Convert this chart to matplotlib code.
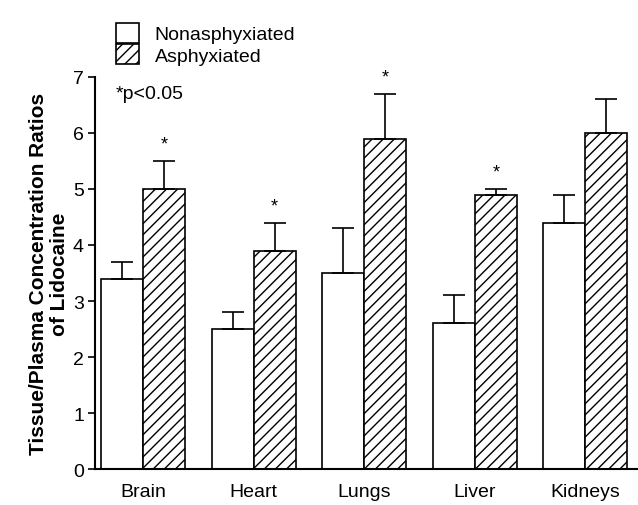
import matplotlib
matplotlib.use('Agg')
import matplotlib.pyplot as plt
import numpy as np

organs = ['Brain', 'Heart', 'Lungs', 'Liver', 'Kidneys']
nonasph = [3.4, 2.5, 3.5, 2.6, 4.4]
nonasph_err = [0.3, 0.3, 0.8, 0.5, 0.5]
asph = [5.0, 3.9, 5.9, 4.9, 6.0]
asph_err = [0.5, 0.5, 0.8, 0.1, 0.6]
signif = [True, True, True, True, False]

plt.rcParams['font.family'] = ['Liberation Sans', 'DejaVu Sans']
plt.rcParams['hatch.linewidth'] = 1.0

fig = plt.figure(figsize=(6.38, 5.06), dpi=100)
ax = fig.add_axes([0.149, 0.071, 0.851, 0.775])

x = np.arange(len(organs))
w = 0.38
b1 = ax.bar(x - w/2, nonasph, w, color='white', edgecolor='black', linewidth=1.2,
            label='Nonasphyxiated')
b2 = ax.bar(x + w/2, asph, w, color='white', edgecolor='black', linewidth=1.2,
            hatch='///', label='Asphyxiated')
ax.errorbar(x - w/2, nonasph, yerr=[np.zeros(5), nonasph_err], fmt='none',
            ecolor='black', elinewidth=1.2, capsize=8, capthick=1.2)
ax.errorbar(x + w/2, asph, yerr=[np.zeros(5), asph_err], fmt='none',
            ecolor='black', elinewidth=1.2, capsize=8, capthick=1.2)

for i in range(len(organs)):
    if signif[i]:
        ax.text(x[i] + w/2, asph[i] + asph_err[i] + 0.3, '*', ha='center', va='center',
                fontsize=13, clip_on=False)

ax.text(-0.25, 6.7, '*p<0.05', fontsize=14, va='center')

ax.set_xlim(-0.434, 4.476)
ax.set_ylim(0, 7)
ax.set_yticks(range(8))
ax.set_xticks(x)
ax.set_xticklabels(organs)
ax.tick_params(axis='x', length=0, labelsize=14, pad=10)
ax.tick_params(axis='y', length=5, width=1.2, labelsize=14, pad=3)
ax.spines['top'].set_visible(False)
ax.spines['right'].set_visible(False)
ax.spines['left'].set_linewidth(1.5)
ax.spines['bottom'].set_linewidth(1.5)
ax.set_ylabel('Tissue/Plasma Concentration Ratios\nof Lidocaine', fontsize=15,
              fontweight='bold', labelpad=3, linespacing=1.1)

fig.legend(handles=[b1, b2], loc='upper left', bbox_to_anchor=(0.16, 0.98),
           frameon=False, fontsize=14, handlelength=1.2, handleheight=1.2,
           handletextpad=0.8, labelspacing=0.05, borderaxespad=0.3)

plt.savefig('out.png', dpi=100)
